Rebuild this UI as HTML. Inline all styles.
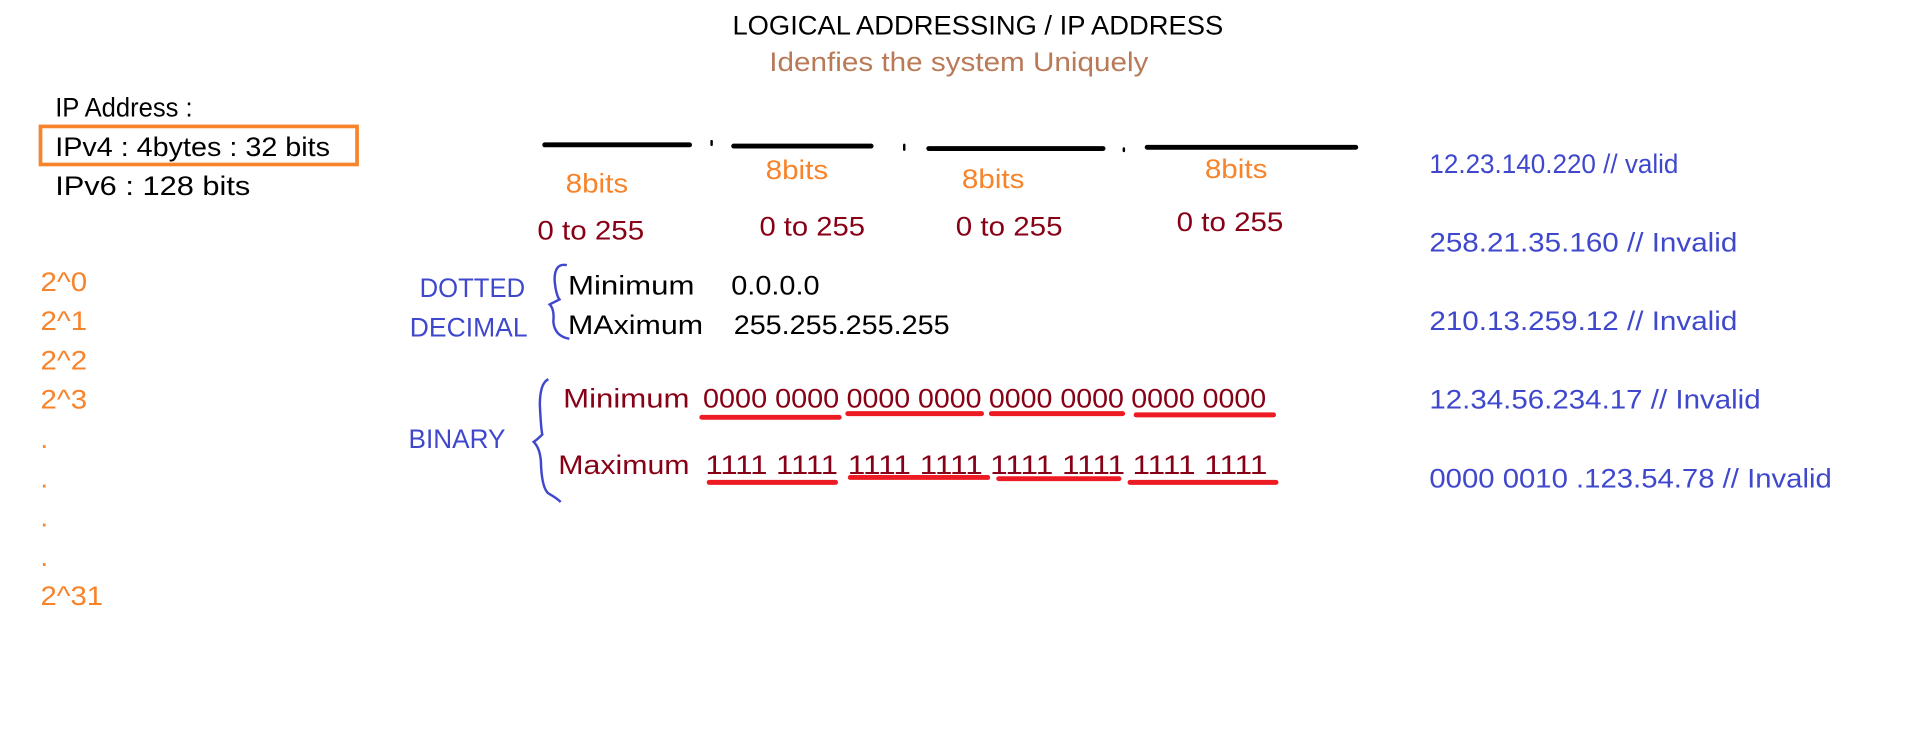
<!DOCTYPE html>
<html><head><meta charset="utf-8"><style>
html,body{margin:0;padding:0;background:#fff;width:1914px;height:734px;overflow:hidden}
svg{display:block}
text{font-family:"Liberation Sans",sans-serif;font-size:22px}
.bl{fill:#000}.or{fill:#f7832a}.dr{fill:#880015}.bu{fill:#3f48cc}
</style></head><body>
<svg width="1914" height="734" viewBox="0 0 1560 598" preserveAspectRatio="none" xmlns="http://www.w3.org/2000/svg">
<text x="597" y="28" class="bl" textLength="400" lengthAdjust="spacingAndGlyphs">LOGICAL ADDRESSING   / IP  ADDRESS</text>
<text x="627" y="58" fill="#b97a57" textLength="309" lengthAdjust="spacingAndGlyphs">Idenfies the system Uniquely</text>
<text x="45" y="95" class="bl" textLength="112" lengthAdjust="spacingAndGlyphs">IP Address :</text>
<rect x="33" y="103" width="258" height="31" fill="none" stroke="#f7832a" stroke-width="3"/>
<text x="45" y="127" class="bl" textLength="224" lengthAdjust="spacingAndGlyphs">IPv4 : 4bytes : 32 bits</text>
<text x="45" y="159" class="bl" textLength="159" lengthAdjust="spacingAndGlyphs">IPv6  :  128 bits</text>
<text x="33" y="237" class="or" textLength="38" lengthAdjust="spacingAndGlyphs">2^0</text>
<text x="33" y="269" class="or" textLength="38" lengthAdjust="spacingAndGlyphs">2^1</text>
<text x="33" y="301" class="or" textLength="38" lengthAdjust="spacingAndGlyphs">2^2</text>
<text x="33" y="333" class="or" textLength="38" lengthAdjust="spacingAndGlyphs">2^3</text>
<text x="33" y="365" class="or">.</text>
<text x="33" y="397" class="or">.</text>
<text x="33" y="429" class="or">.</text>
<text x="33" y="461" class="or">.</text>
<text x="33" y="493" class="or" textLength="51" lengthAdjust="spacingAndGlyphs">2^31</text>
<g stroke="#000" stroke-width="4" stroke-linecap="round">
<line x1="444" y1="118" x2="562" y2="118"/>
<line x1="598" y1="119" x2="710" y2="119"/>
<line x1="757" y1="121" x2="899" y2="121"/>
<line x1="935" y1="120" x2="1105" y2="120"/>
<line x1="580" y1="115" x2="580" y2="118" stroke-width="2"/>
<line x1="737" y1="118" x2="737" y2="122" stroke-width="2"/>
<line x1="916" y1="121" x2="916" y2="123" stroke-width="2"/>
</g>
<text x="461" y="157" class="or" textLength="51" lengthAdjust="spacingAndGlyphs">8bits</text>
<text x="624" y="146" class="or" textLength="51" lengthAdjust="spacingAndGlyphs">8bits</text>
<text x="784" y="153" class="or" textLength="51" lengthAdjust="spacingAndGlyphs">8bits</text>
<text x="982" y="145" class="or" textLength="51" lengthAdjust="spacingAndGlyphs">8bits</text>
<text x="438" y="195" class="dr" textLength="87" lengthAdjust="spacingAndGlyphs">0 to 255</text>
<text x="619" y="192" class="dr" textLength="86" lengthAdjust="spacingAndGlyphs">0 to 255</text>
<text x="779" y="192" class="dr" textLength="87" lengthAdjust="spacingAndGlyphs">0 to 255</text>
<text x="959" y="188" class="dr" textLength="87" lengthAdjust="spacingAndGlyphs">0 to 255</text>
<text x="342" y="242" class="bu" textLength="86" lengthAdjust="spacingAndGlyphs">DOTTED</text>
<text x="334" y="274" class="bu" textLength="96" lengthAdjust="spacingAndGlyphs">DECIMAL</text>
<path d="M462 216 Q452 214 452 228 Q453 240 456 244 Q452 246 448 248 Q452 252 451 262 Q452 274 464 276" fill="none" stroke="#3f48cc" stroke-width="2"/>
<text x="463" y="240" class="bl" textLength="103" lengthAdjust="spacingAndGlyphs">Minimum</text>
<text x="463" y="272" class="bl" textLength="110" lengthAdjust="spacingAndGlyphs">MAximum</text>
<text x="596" y="240" class="bl" textLength="72" lengthAdjust="spacingAndGlyphs">0.0.0.0</text>
<text x="598" y="272" class="bl" textLength="176" lengthAdjust="spacingAndGlyphs">255.255.255.255</text>
<text x="333" y="365" class="bu" textLength="79" lengthAdjust="spacingAndGlyphs">BINARY</text>
<path d="M447 309 Q440 312 440 330 Q441 350 442 354 Q438 358 435 360 Q441 366 441 380 Q442 398 447 402 Q454 406 457 409" fill="none" stroke="#3f48cc" stroke-width="2"/>
<text x="459" y="332" class="dr" textLength="103" lengthAdjust="spacingAndGlyphs">Minimum</text>
<text x="573" y="332" class="dr" textLength="111" lengthAdjust="spacingAndGlyphs">0000 0000</text>
<text x="690" y="332" class="dr" textLength="110" lengthAdjust="spacingAndGlyphs">0000 0000</text>
<text x="806" y="332" class="dr" textLength="110" lengthAdjust="spacingAndGlyphs">0000 0000</text>
<text x="922" y="332" class="dr" textLength="110" lengthAdjust="spacingAndGlyphs">0000 0000</text>
<text x="455" y="386" class="dr" textLength="107" lengthAdjust="spacingAndGlyphs">Maximum</text>
<text x="575" y="386" class="dr" textLength="108" lengthAdjust="spacingAndGlyphs">1111 1111</text>
<text x="691" y="386" class="dr" textLength="110" lengthAdjust="spacingAndGlyphs">1111 1111</text>
<text x="807" y="386" class="dr" textLength="110" lengthAdjust="spacingAndGlyphs">1111 1111</text>
<text x="923" y="386" class="dr" textLength="110" lengthAdjust="spacingAndGlyphs">1111 1111</text>
<g stroke="#ed1c24" stroke-width="4" stroke-linecap="round">
<line x1="572" y1="340" x2="684" y2="340"/>
<line x1="691" y1="337" x2="800" y2="337"/>
<line x1="808" y1="337" x2="915" y2="337"/>
<line x1="926" y1="338" x2="1038" y2="338"/>
<line x1="578" y1="393" x2="681" y2="393"/>
<line x1="693" y1="389" x2="805" y2="389"/>
<line x1="814" y1="390" x2="912" y2="390"/>
<line x1="921" y1="393" x2="1040" y2="393"/>
</g>
<text x="1165" y="141" class="bu" textLength="203" lengthAdjust="spacingAndGlyphs">12.23.140.220  // valid</text>
<text x="1165" y="205" class="bu" textLength="251" lengthAdjust="spacingAndGlyphs">258.21.35.160 // Invalid</text>
<text x="1165" y="269" class="bu" textLength="251" lengthAdjust="spacingAndGlyphs">210.13.259.12 // Invalid</text>
<text x="1165" y="333" class="bu" textLength="270" lengthAdjust="spacingAndGlyphs">12.34.56.234.17 // Invalid</text>
<text x="1165" y="397" class="bu" textLength="328" lengthAdjust="spacingAndGlyphs">0000 0010 .123.54.78 // Invalid</text>
</svg>
</body></html>
